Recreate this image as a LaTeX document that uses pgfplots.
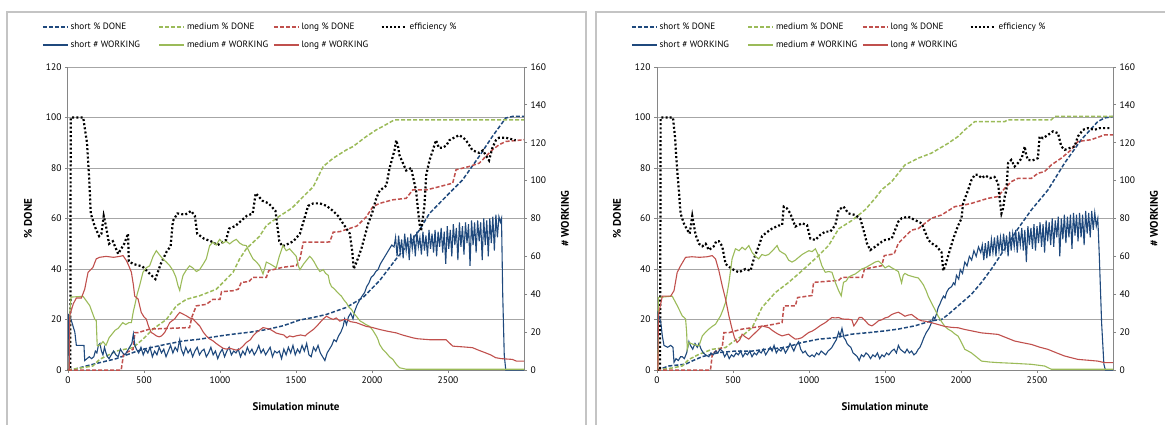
\documentclass[border=0pt]{standalone}
\usepackage{fontspec}
\setmainfont{PT Sans}
\usepackage{pgfplots}
\pgfplotsset{compat=1.18}
\definecolor{cblue}{HTML}{1F497D}
\definecolor{cgreen}{HTML}{9BBB59}
\definecolor{cred}{HTML}{C0504D}
\definecolor{axgray}{HTML}{868686}
\definecolor{gridgray}{HTML}{A6A6A6}
\definecolor{framegray}{HTML}{C4C4C4}
\pgfplotsset{
  every non boxed x axis/.append style={x axis line style={-}, xtick align=outside},
  every non boxed y axis/.append style={y axis line style={-}, ytick align=outside},
  base/.style={scale only axis, width=456pt, height=303pt, xmin=0, xmax=3000,
    tick align=outside, major tick length=3pt,
    axis line style={draw=axgray, line width=1pt},
    tick style={draw=axgray, line width=0.8pt},
    ticklabel style={font=\fontsize{9.5}{11}\selectfont},
    /pgf/number format/assume math mode=true,
    /pgf/number format/set thousands separator={},
    label style={font=\bfseries\fontsize{11}{13}\selectfont}},
  pct/.style={base, axis x line=bottom, axis y line=left, ymin=0, ymax=120,
    ytick={0,20,...,120}, xtick={0,500,...,2500},
    ymajorgrids, grid style={draw=gridgray, line width=1pt},
    xlabel={Simulation minute}, ylabel={\% DONE},
    xlabel style={at={(axis description cs:0.5,-0.122)}, anchor=center},
    ylabel style={at={(axis description cs:-0.0877,0.5)}, anchor=center}},
  work/.style={base, axis x line=none, axis y line=right, ymin=0, ymax=160,
    ytick={0,20,...,160}, ylabel={\# WORKING},
    ylabel style={at={(axis description cs:1.0899,0.5)}, anchor=center, font=\bfseries\fontsize{11}{13}\selectfont},
    legend columns=4,
    legend style={draw=none, fill=none, at={(axis description cs:-0.057,1.147)},
      anchor=north west, inner sep=0pt, outer sep=0pt, row sep=9pt,
      font=\fontsize{9.2}{10}\selectfont,
      nodes={inner sep=0pt, text height=7pt, text depth=2pt},
      cells={anchor=west},
      /tikz/every odd column/.append style={column sep=2pt}},
    legend image code/.code={\draw[##1] (0pt,0pt) -- (25pt,0pt);}},
  sDone/.style={cblue, line width=1.5pt, dash pattern=on 4pt off 2pt},
  mDone/.style={cgreen, line width=1.5pt, dash pattern=on 4pt off 2pt},
  lDone/.style={cred, line width=1.5pt, dash pattern=on 4pt off 2pt},
  eff/.style={black, line width=2.2pt, dash pattern=on 2pt off 2.2pt},
  sWork/.style={cblue, line width=1.1pt},
  mWork/.style={cgreen, line width=1.1pt},
  lWork/.style={cred, line width=1.1pt},
}
\begin{document}
\begin{tikzpicture}[x=1pt,y=1pt]
\useasboundingbox (0,0) rectangle (1165,424);
\draw[framegray, line width=1.2pt] (7,-10) -- (7,412) -- (586,412) -- (586,-10);
\draw[framegray, line width=1.2pt] (596,-10) -- (596,412) -- (1175,412);

% ================= LEFT PANEL =================
\begin{axis}[pct, at={(68pt,54pt)}, anchor=south west]
\addplot[sDone] coordinates {(0,0) (55,0.5) (121,1.6) (208,2.9) (318,4.5) (428,6.9) (493,8.2) (647,10.2) (757,11.5) (866,12.2) (1000,13.5) (1086,14.2) (1200,15) (1305,16) (1414,17.5) (1524,19.8) (1613,20.8) (1700,22) (1832,24.8) (1941,28.7) (2050,35.4) (2159,44) (2268,52) (2312,55.4) (2378,62) (2487,68.7) (2596,75.3) (2705,84.6) (2792,92.5) (2880,99.8) (2923,100.4) (3000,100.4)};
\addplot[mDone] coordinates {(0,0) (50,0.5) (164,1.6) (208,4.2) (318,7.5) (428,8.9) (493,12.2) (559,16.2) (647,20) (713,25.4) (779,28) (866,29.4) (976,32) (1086,38.7) (1129,44) (1173,48) (1261,53) (1305,57.2) (1393,61) (1458,63.5) (1483,64.7) (1548,68.7) (1614,72.6) (1679,80.6) (1745,83.9) (1832,87.2) (1875,88.5) (1963,92.5) (2028,95.1) (2072,96.5) (2148,99.1) (3000,99.1)};
\addplot[lDone] coordinates {(0,0) (350,0) (365,6) (384,6.9) (428,8.2) (440,14.8) (461,14.8) (537,16.2) (800,16.8) (815,21) (844,25.4) (910,26) (954,28) (1000,28) (1010,31) (1086,31.4) (1120,32) (1140,34.7) (1190,35) (1217,36.7) (1305,36.7) (1320,39.3) (1414,40.7) (1502,41.3) (1526,44) (1548,50.6) (1701,50.6) (1723,50.8) (1745,54.6) (1788,54.8) (1900,57) (1919,58.1) (1963,60.7) (2006,64.7) (2050,66) (2137,67.4) (2225,68) (2268,71.3) (2356,71.3) (2443,72.6) (2531,74) (2553,79.3) (2640,80.6) (2705,81.9) (2792,87.2) (2836,89.2) (2880,90.5) (3000,91.2)};
\addplot[eff] coordinates {(0,0) (15,0) (18,100) (100,100) (125,90) (140,75) (150,62) (175,57) (205,53) (220,54) (235,61) (250,57) (270,50) (295,51) (330,46) (370,50) (395,54) (400,43) (430,42) (490,41) (540,38) (575,36) (610,42) (650,47) (675,49) (690,59) (720,62) (770,61.5) (810,63) (835,61) (850,54) (895,52) (940,51) (985,49.5) (1040,51.5) (1060,56) (1100,57) (1175,61) (1215,62) (1235,70) (1280,67) (1320,66) (1365,63) (1390,51) (1410,49) (1450,50) (1483,51) (1526,54) (1570,63) (1580,65) (1614,66) (1657,66) (1701,65) (1744,63) (1777,61) (1810,58) (1854,54) (1870,47) (1880,40) (1900,43) (1930,48) (1975,58) (2000,62) (2028,68) (2050,71) (2094,73) (2116,80) (2148,87) (2159,91) (2170,89) (2181,85) (2203,82) (2225,79) (2258,80) (2268,77) (2290,71) (2300,65) (2312,58) (2323,55) (2334,60) (2345,65) (2356,77) (2378,83) (2400,87) (2421,91) (2440,88) (2465,88) (2490,89) (2509,91) (2540,92) (2574,93) (2600,92) (2618,91) (2640,89) (2661,87) (2705,86) (2730,87) (2749,85) (2770,83) (2792,88) (2815,91) (2836,92) (2860,92) (2880,92) (2945,91)};
\end{axis}
\begin{axis}[work, at={(68pt,54pt)}, anchor=south west]
\addlegendimage{sDone}\addlegendentry{\makebox[88pt][l]{short \% DONE}}
\addlegendimage{mDone}\addlegendentry{\makebox[86pt][l]{medium \% DONE}}
\addlegendimage{lDone}\addlegendentry{\makebox[79pt][l]{long \% DONE}}
\addlegendimage{eff}\addlegendentry{efficiency \%}
\addplot[sWork] coordinates {(0,0) (5,29) (15,28) (30,24) (45,20) (55,13) (70,13) (90,13) (105,13) (110,5) (125,6) (140,7) (155,6) (170,7) (180,10) (190,9) (200,13) (210,14) (220,10) (230,8) (240,12) (250,9) (260,7) (270,6) (285,8) (300,10) (315,8) (330,7) (345,11) (360,9) (375,8) (390,10) (405,12) (420,14) (430,19) (440,13) (450,11) (465,9) (480,12) (495,8) (510,11) (525,9) (540,12) (555,7) (570,10) (585,8) (600,12) (615,9) (630,11) (645,7) (660,10) (675,13) (690,9) (705,12) (720,10) (735,16) (745,11) (760,8) (775,12) (790,9) (805,11) (820,7) (835,10) (850,12) (865,8) (880,10) (895,11) (910,7) (925,9) (940,12) (955,8) (970,10) (985,6) (1000,9) (1015,11) (1030,7) (1045,10) (1060,12) (1075,8) (1090,10) (1105,9) (1120,11) (1135,7) (1150,10) (1165,8) (1180,12) (1195,9) (1210,11) (1225,8) (1240,10) (1255,13) (1270,9) (1285,11) (1300,8) (1315,10) (1330,12) (1345,7) (1360,10) (1375,9) (1390,10) (1405,6) (1420,11) (1435,8) (1450,12) (1465,9) (1480,13) (1495,8) (1510,11) (1525,9) (1540,13) (1555,10) (1570,14) (1585,8) (1600,7) (1615,12) (1630,10) (1645,13) (1660,9) (1675,7) (1690,5) (1705,9) (1720,11) (1735,13) (1750,16) (1765,15) (1780,18) (1795,20) (1810,23) (1820,27) (1832,24) (1845,28) (1860,30) (1875,27) (1886,31) (1900,34) (1919,37) (1935,39) (1952,41) (1965,44) (1980,46) (1995,49) (2010,50) (2025,52) (2040,53) (2055,56) (2070,58) (2085,60) (2100,62) (2115,64) (2130,66) (2145,65) (2155,70) (2165,60) (2175,71) (2185,62) (2195,69) (2205,59) (2215,72) (2225,63) (2235,70) (2245,58) (2255,72) (2265,64) (2275,71) (2285,60) (2295,73) (2305,65) (2315,70) (2325,61) (2335,73) (2345,63) (2355,71) (2365,60) (2375,74) (2385,64) (2395,72) (2405,62) (2415,74) (2425,60) (2435,73) (2445,65) (2455,75) (2465,62) (2475,73) (2485,56) (2495,76) (2505,64) (2515,74) (2525,60) (2535,77) (2545,66) (2555,75) (2565,58) (2575,78) (2585,65) (2595,76) (2605,61) (2615,78) (2625,67) (2635,77) (2645,55) (2655,79) (2665,66) (2675,78) (2685,62) (2695,79) (2705,68) (2715,78) (2725,58) (2735,80) (2745,66) (2755,79) (2765,60) (2775,80) (2785,67) (2795,81) (2805,63) (2815,82) (2825,70) (2835,81) (2845,78) (2852,80) (2860,40) (2870,8) (2880,0) (3000,0)};
\addlegendentry{\makebox[88pt][l]{short \# WORKING}}
\addplot[mWork] coordinates {(0,0) (8,0) (12,30) (20,38.5) (99,38.9) (143,34) (175,27) (186,26) (192,13) (197,12.7) (215,13.5) (230,15) (250,13) (270,17) (290,19) (310,21) (330,22) (340,23) (360,25) (380,24) (400,25) (417,25) (430,31) (439,34) (455,40) (471,44.5) (485,49) (493,51.6) (515,54) (537,55) (560,60) (581,63) (600,61) (620,59) (647,57) (670,55) (691,52.5) (710,49) (724,44.5) (735,42) (745,46) (757,50) (780,53) (800,55) (820,54) (845,52) (866,53) (890,56) (910,58.7) (932,65.7) (954,67.5) (975,66) (998,69) (1020,67) (1040,68) (1064,66.6) (1085,68) (1107,69) (1130,67) (1150,66) (1173,65.7) (1195,62) (1217,58.7) (1240,57) (1261,55) (1283,50.7) (1295,54) (1305,57) (1330,56) (1350,55) (1370,54) (1390,60) (1414,65.7) (1436,63) (1458,64) (1480,62) (1502,60) (1515,55) (1526,53) (1550,56) (1570,58) (1590,60) (1603,59) (1620,57) (1635,54.7) (1657,52) (1679,53) (1695,51) (1712,50) (1722,46) (1734,44) (1750,43) (1766,41.6) (1785,40) (1799,39) (1815,37) (1832,35.4) (1850,33) (1865,32) (1880,30) (1897,28.4) (1920,26) (1941,25) (1960,24) (1985,23) (2005,21) (2028,18) (2040,16) (2050,13.5) (2070,11) (2094,9) (2115,7) (2137,5.6) (2160,3) (2181,1.2) (2225,0.4) (3000,0.4)};
\addlegendentry{\makebox[86pt][l]{medium \# WORKING}}
\addplot[lWork] coordinates {(0,0) (8,0) (12,29) (35,35) (55,38) (88,38) (110,42.7) (132,51.6) (150,53) (164,54.2) (186,58.7) (208,59.5) (250,60) (300,59.5) (340,60) (362,60.4) (384,57.8) (400,55) (417,51.6) (430,45) (439,39) (461,37.5) (482,30.4) (500,28) (515,26.9) (530,23) (548,19.8) (565,19) (581,18) (600,17.5) (615,18) (636,19.8) (650,22) (669,25) (685,26) (702,27) (720,29) (735,30.4) (757,29.5) (779,28.6) (800,27.5) (822,27) (845,25) (866,23.3) (890,20) (910,18) (930,16.5) (954,15.4) (975,14) (998,12.7) (1020,11.5) (1042,11) (1064,11.5) (1085,11) (1107,10.5) (1129,11) (1150,12.5) (1173,14.5) (1200,16) (1217,18) (1239,19.8) (1260,21) (1283,22.4) (1305,22) (1327,21.6) (1350,20.5) (1370,19.5) (1393,19) (1420,18.5) (1440,17) (1458,18) (1480,17.5) (1500,18) (1530,18.5) (1560,18) (1570,18.8) (1590,20) (1614,21.4) (1635,23) (1657,25) (1680,27) (1701,28.4) (1720,27.5) (1745,26.7) (1765,27.5) (1788,25.8) (1810,26.5) (1832,26.7) (1860,25.5) (1897,25) (1930,24) (1963,23) (2000,22.5) (2050,21.4) (2100,20.5) (2159,19.6) (2200,18.5) (2268,17) (2300,16.5) (2378,16) (2487,16) (2500,15) (2531,12.6) (2600,12.2) (2661,11.8) (2700,10.5) (2749,9) (2780,8) (2814,6.5) (2850,6) (2923,5.6) (2950,4.7) (3000,4.7)};
\addlegendentry{long \# WORKING}
\end{axis}

% ================= RIGHT PANEL =================
\begin{axis}[pct, at={(657pt,54pt)}, anchor=south west]
\addplot[sDone] coordinates {(0,0) (79,1.6) (188,2.3) (232,3.6) (298,5.3) (407,6.9) (516,7.5) (626,7.5) (713,8.2) (845,8.9) (954,10.9) (1063,12.2) (1173,12.8) (1282,14.2) (1392,14.8) (1500,15.5) (1587,16.2) (1697,17.5) (1806,19.5) (1872,20) (1916,22) (1981,25.4) (2069,30) (2135,34.7) (2200,40) (2244,44) (2310,50) (2375,56) (2463,63.4) (2572,71.3) (2681,81.9) (2791,91.2) (2900,98.4) (2944,99.8) (3000,100.4)};
\addplot[mDone] coordinates {(0,0) (100,0.8) (166,1.6) (210,4.2) (276,6.2) (363,8.2) (451,8.9) (494,10.9) (560,13.5) (626,16.8) (691,24.8) (779,30.7) (866,34.7) (954,39.3) (1063,45.3) (1129,49.3) (1195,55.9) (1282,59.2) (1370,63.5) (1435,68) (1480,71.5) (1544,74.6) (1631,81.2) (1719,83.9) (1806,85.9) (1916,89.8) (1981,92.5) (2025,95.1) (2091,98.4) (2288,98.4) (2310,99.1) (2594,99.1) (2616,100.4) (3000,100.4)};
\addplot[lDone] coordinates {(0,0) (352,0) (365,6.9) (374,6.9) (429,8.9) (440,14.8) (473,14.8) (560,16.2) (713,17.5) (768,18.1) (823,18.8) (835,25.4) (910,25.4) (925,28.7) (1020,29.5) (1030,34.7) (1195,35.5) (1217,36.7) (1350,36.7) (1365,40) (1479,41.3) (1495,45.3) (1560,46) (1588,50.2) (1631,52.8) (1675,55.4) (1719,56) (1763,58.1) (1806,60.1) (1872,61.4) (1959,64.7) (2025,65.4) (2069,66) (2178,68) (2244,68.7) (2288,72) (2331,74.6) (2375,75.9) (2463,75.9) (2506,77.9) (2550,78.6) (2594,81.2) (2660,83.9) (2725,87.2) (2769,90.5) (2856,91.2) (2944,93.1) (3000,93.1)};
\addplot[eff] coordinates {(0,0) (20,0) (24,100) (105,100) (118,92.5) (133,79) (144,71) (155,62) (177,58) (199,55.5) (215,54) (232,61) (254,53.5) (276,50) (298,49) (320,50) (341,47.5) (374,49) (390,51) (407,51) (429,49) (451,42) (494,40) (538,38.7) (582,40) (615,39.3) (637,44) (669,49) (691,53) (724,54.6) (757,56) (800,57.2) (823,57.4) (834,64.7) (855,64) (877,62) (910,56.8) (954,58.1) (987,57.4) (1009,52) (1042,51.5) (1074,53.5) (1107,54.8) (1140,54.8) (1173,57.4) (1195,63.4) (1227,64.7) (1260,62) (1304,61.4) (1337,60) (1359,55.4) (1381,50.2) (1403,47.5) (1435,48.8) (1479,50.8) (1500,51.5) (1544,52) (1588,58.8) (1609,60.1) (1653,60.7) (1697,59.4) (1741,58.1) (1763,54.8) (1785,51.5) (1806,50.2) (1839,49) (1872,46.6) (1883,39.3) (1900,42) (1916,45.3) (1949,52) (1981,57.2) (2003,60) (2014,66) (2047,71.3) (2069,75.3) (2091,77.3) (2113,77.3) (2135,76) (2160,77) (2190,76) (2220,76.5) (2244,74) (2255,67.4) (2266,62) (2277,64) (2288,68.7) (2299,71.3) (2310,82) (2331,83.2) (2353,80.6) (2375,82) (2400,84) (2419,88.5) (2430,85) (2440,83.2) (2470,83) (2506,83.9) (2517,92.5) (2539,91.8) (2572,93.1) (2605,94.5) (2638,93.8) (2660,88.5) (2682,87.2) (2714,87.9) (2747,88.5) (2769,92.5) (2802,95.1) (2835,95.8) (2878,95.1) (2911,95.8) (2977,95.8)};
\end{axis}
\begin{axis}[work, at={(657pt,54pt)}, anchor=south west]
\addlegendimage{sDone}\addlegendentry{\makebox[88pt][l]{short \% DONE}}
\addlegendimage{mDone}\addlegendentry{\makebox[86pt][l]{medium \% DONE}}
\addlegendimage{lDone}\addlegendentry{\makebox[79pt][l]{long \% DONE}}
\addlegendimage{eff}\addlegendentry{efficiency \%}
\addplot[sWork] coordinates {(0,0) (5,30) (15,28) (25,25) (35,18) (46,13) (70,12) (90,13) (105,12) (112,4) (125,6) (140,5) (155,7) (166,7) (180,6) (195,9) (210,15) (220,13) (235,11) (250,14) (265,12) (276,14) (290,11) (305,9) (320,8) (341,7) (355,9) (370,8) (385,10) (400,9) (415,11) (430,10) (445,7) (460,9) (475,6) (490,8) (505,7) (520,9) (535,8) (550,10) (565,7) (580,9) (595,8) (610,10) (625,7) (640,9) (655,8) (670,10) (685,9) (700,11) (715,8) (730,10) (745,12) (757,10) (770,13) (785,9) (800,11) (815,10) (830,12) (845,9) (860,11) (875,14) (888,12) (900,10) (915,13) (932,15) (945,11) (960,9) (975,10) (990,8) (1005,7) (1020,8) (1035,7) (1050,9) (1065,8) (1080,10) (1095,9) (1110,8) (1125,10) (1140,11) (1151,12) (1165,14) (1180,16) (1195,20) (1205,18) (1217,22) (1230,17) (1240,16) (1250,14) (1260,13) (1275,12) (1290,9) (1305,8) (1318,7) (1330,5) (1345,8) (1360,7) (1375,9) (1390,8) (1405,6) (1420,8) (1435,7) (1450,9) (1465,6) (1480,8) (1495,7) (1510,9) (1525,8) (1544,10) (1560,11) (1575,9) (1588,13) (1600,11) (1615,10) (1631,9) (1645,11) (1660,9) (1675,10) (1690,8) (1705,9) (1719,11) (1730,12) (1741,14) (1755,17) (1773,20) (1790,22) (1806,25) (1818,28) (1828,27) (1840,30) (1850,33) (1862,35) (1872,37) (1885,39) (1895,38) (1905,41) (1920,43) (1938,44) (1950,46) (1960,45) (1970,50) (1985,48) (1995,53) (2010,51) (2025,57) (2040,55) (2055,60) (2070,58) (2085,63) (2100,60) (2115,65) (2130,62) (2140,66) (2150,58) (2160,67) (2170,59) (2180,68) (2190,60) (2200,69) (2210,62) (2220,70) (2230,60) (2240,71) (2250,63) (2260,70) (2270,62) (2280,72) (2290,64) (2300,71) (2310,60) (2320,73) (2330,63) (2340,72) (2350,65) (2360,74) (2370,62) (2380,73) (2390,66) (2400,75) (2410,63) (2420,74) (2430,57) (2440,76) (2450,66) (2460,75) (2470,64) (2480,77) (2490,63) (2500,76) (2510,67) (2520,78) (2530,65) (2540,77) (2550,62) (2560,79) (2570,68) (2580,78) (2590,66) (2600,80) (2610,65) (2620,79) (2630,70) (2640,81) (2650,60) (2660,80) (2670,69) (2680,82) (2690,67) (2700,81) (2710,70) (2720,82) (2730,64) (2740,83) (2750,71) (2760,82) (2770,68) (2780,83) (2790,70) (2800,82) (2810,66) (2820,84) (2830,72) (2840,83) (2850,70) (2860,84) (2870,74) (2880,83) (2890,76) (2900,80) (2910,60) (2925,25) (2940,3) (2950,0) (3000,0)};
\addlegendentry{\makebox[88pt][l]{short \# WORKING}}
\addplot[mWork] coordinates {(0,0) (6,0) (9,38.3) (100,39) (133,34) (166,28.6) (188,27) (195,20) (199,11) (210,14.5) (240,13.5) (276,12.7) (298,18) (320,20) (341,21.6) (363,23) (385,24.2) (418,28.6) (435,32) (451,35.7) (473,46) (494,58.7) (516,64) (540,63) (560,64.8) (580,63.5) (604,65.7) (626,62) (648,60) (669,58.7) (690,61) (713,60.4) (735,61) (760,63) (790,65.7) (805,63) (823,62) (845,61) (866,58) (888,57) (910,58) (932,59.5) (955,61) (976,62) (1000,63) (1020,62.5) (1042,64) (1065,60) (1085,55) (1107,51.6) (1130,52) (1151,51.6) (1173,46.3) (1195,41.9) (1212,39.2) (1227,46.3) (1245,47) (1260,49) (1282,50) (1304,50.7) (1326,52) (1348,53.4) (1370,54) (1392,55) (1414,56) (1435,57) (1457,57.5) (1479,56) (1500,53.9) (1525,55) (1544,54) (1566,53) (1588,52) (1609,46) (1620,50) (1631,51) (1653,50) (1675,49.5) (1697,49) (1719,48.6) (1735,47) (1752,45) (1770,42) (1784,39) (1806,35.4) (1828,32) (1850,28.4) (1872,25.5) (1894,23) (1916,21.5) (1938,20.5) (1960,19) (1981,17.9) (2003,14.5) (2025,10.9) (2047,10) (2069,9) (2100,7) (2135,4.7) (2190,4.2) (2244,3.9) (2353,3.5) (2463,3) (2550,2.1) (2594,0.4) (3000,0.4)};
\addlegendentry{\makebox[86pt][l]{medium \# WORKING}}
\addplot[lWork] coordinates {(0,0) (6,0) (9,29) (35,39) (90,39) (112,41.9) (133,51.6) (155,55) (188,59.5) (230,59.8) (280,59.5) (330,59.8) (363,60.4) (385,58.7) (407,52.5) (429,44.5) (451,37.5) (473,28.6) (494,21.6) (510,17) (527,14.5) (545,16) (560,18.9) (580,17.5) (604,16.3) (625,18) (648,19.8) (670,21.5) (691,23.3) (713,22.8) (735,22.4) (757,21) (779,19.8) (800,18.8) (823,18) (845,18.5) (866,18.9) (888,17.5) (910,16.3) (932,16.5) (954,17.1) (976,18.5) (998,19.8) (1020,20.5) (1042,21.6) (1075,23.5) (1107,25) (1130,26.5) (1151,27.7) (1173,27.5) (1195,27.7) (1217,27) (1238,26.8) (1260,26.8) (1282,26.5) (1295,23.3) (1310,25) (1330,27.7) (1348,27.7) (1370,26) (1392,24) (1414,23.3) (1435,24.5) (1457,26) (1479,26.5) (1500,27.5) (1522,28) (1544,29.3) (1566,30) (1588,30.5) (1610,29.5) (1631,28.4) (1653,29) (1675,29.3) (1697,28) (1719,26.7) (1741,26) (1763,25.8) (1806,25) (1850,24) (1894,23) (1940,22.5) (1981,22.3) (2025,21.4) (2080,20.5) (2135,19.6) (2190,19.2) (2244,18.8) (2300,17) (2353,15.3) (2400,14.5) (2463,13.5) (2520,12) (2572,10.9) (2630,9) (2681,7.4) (2725,6.5) (2769,5.6) (2830,5.2) (2900,4.7) (2944,3.9) (3000,3.9)};
\addlegendentry{long \# WORKING}
\end{axis}
\end{tikzpicture}
\end{document}
